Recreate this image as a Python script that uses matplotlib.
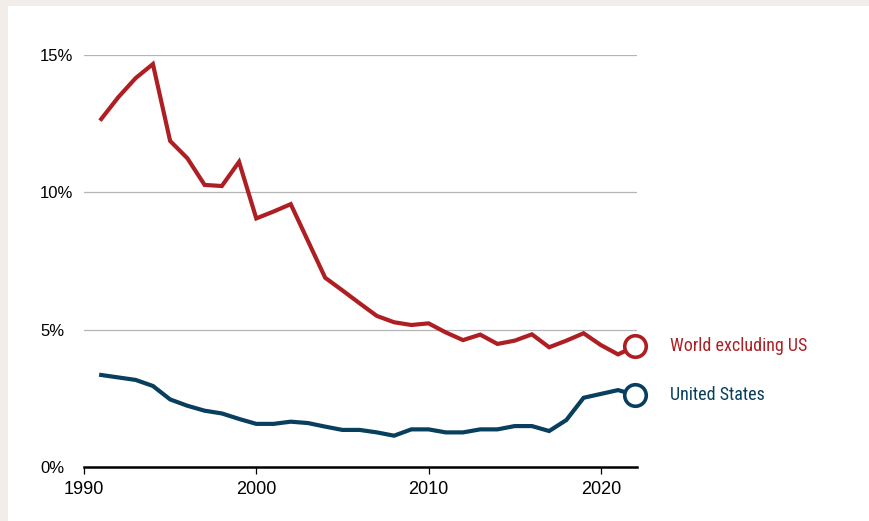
import matplotlib
matplotlib.use("Agg")
import matplotlib.pyplot as plt
from matplotlib.patches import Rectangle

years = list(range(1991, 2023))
world_ex_us = [12.67, 13.47, 14.16, 14.67, 11.87, 11.24, 10.27, 10.23, 11.11, 9.05,
               9.30, 9.57, 8.23, 6.89, 6.43, 5.96, 5.50, 5.27, 5.17, 5.23,
               4.90, 4.62, 4.82, 4.48, 4.60, 4.83, 4.36, 4.60, 4.87, 4.44,
               4.10, 4.40]
united_states = [3.35, 3.26, 3.17, 2.95, 2.46, 2.23, 2.05, 1.95, 1.75, 1.57,
                 1.57, 1.65, 1.60, 1.47, 1.35, 1.35, 1.26, 1.14, 1.37, 1.37,
                 1.26, 1.26, 1.37, 1.37, 1.49, 1.49, 1.31, 1.71, 2.52, 2.66,
                 2.80, 2.62]
series_labels = ["World excluding US", "United States"]
y_ticks = [0, 5, 10, 15]
y_tick_labels = ["0%", "5%", "10%", "15%"]
x_ticks = [1990, 2000, 2010, 2020]

RED = "#ae1f24"
BLUE = "#083f5e"
BEIGE = "#f2ede8"

W, H = 870, 521
fig = plt.figure(figsize=(W / 100, H / 100), dpi=100)
fig.patch.set_facecolor(BEIGE)
bg = Rectangle((8 / W, -0.1), 1.2, 1.1 - 6 / H, transform=fig.transFigure,
               facecolor="white", edgecolor="none", zorder=-10)
fig.patches.append(bg)

left, right = 84 / W, 637 / W
bottom, top = 1 - 467 / H, 1 - 55 / H
ax = fig.add_axes([left, bottom, right - left, top - bottom])
ax.set_facecolor("none")
ax.set_zorder(1)

for yv in y_ticks[1:]:
    ax.axhline(yv, color="#b5b5b5", lw=0.9, zorder=1)

for vals, color, lab in [(world_ex_us, RED, series_labels[0]), (united_states, BLUE, series_labels[1])]:
    ax.plot(years, vals, color=color, lw=3.0, solid_joinstyle="miter", zorder=3, clip_on=False)
    ax.plot([years[-1]], [vals[-1]], marker="o", ms=15.5, mfc="white", mec=color, mew=2.6,
            zorder=4, clip_on=False, linestyle="none")
    ax.annotate(lab, xy=(years[-1], vals[-1]), xytext=(25, 0), textcoords="offset points",
                color=color, fontsize=13, va="center", ha="left", fontweight="normal",
                family=["Roboto Condensed", "DejaVu Sans"], annotation_clip=False)

ax.set_xlim(1990, 2022.1)
ax.set_ylim(0, 15)

for s in ["top", "right", "left"]:
    ax.spines[s].set_visible(False)
ax.spines["bottom"].set_color("black")
ax.spines["bottom"].set_linewidth(1.8)
ax.spines["bottom"].set_zorder(5)

ax.set_xticks(x_ticks)
ax.set_xticklabels([str(x) for x in x_ticks], family=["Liberation Sans"], fontsize=13)
ax.tick_params(axis="x", length=5, width=0.9, color="black", pad=5)

ax.set_yticks(y_ticks)
ax.set_yticklabels(y_tick_labels, family=["Liberation Sans"], fontsize=12)
ax.tick_params(axis="y", length=0, pad=31.7)
for t in ax.get_yticklabels():
    t.set_horizontalalignment("left")

fig.savefig("out.png", dpi=100, facecolor=fig.get_facecolor())
